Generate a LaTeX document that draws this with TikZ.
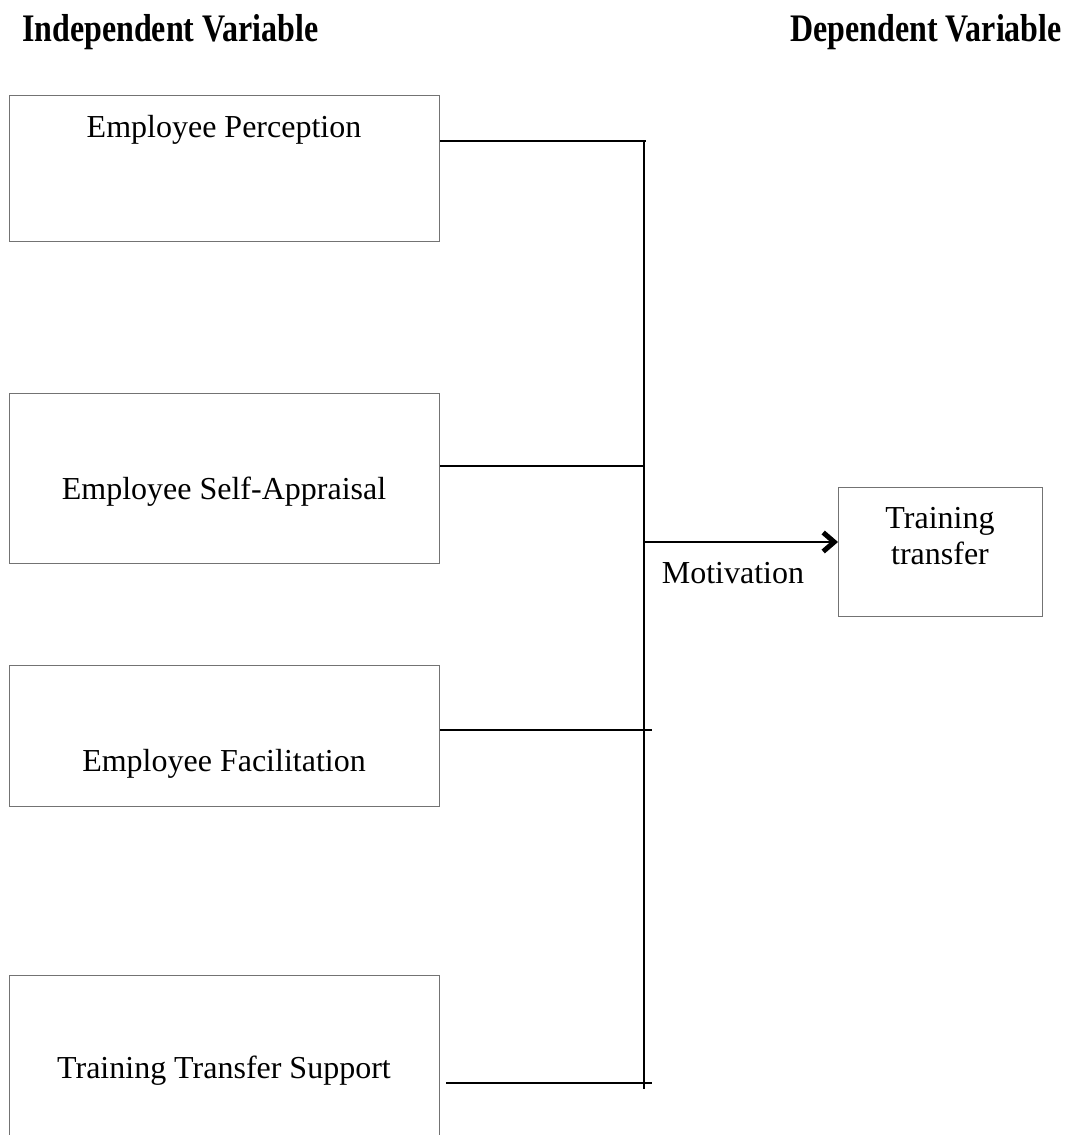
\documentclass[tikz,border=0pt]{standalone}
\usepackage{fontspec}
\usepackage{graphicx}
\setmainfont{Liberation Serif}
\usetikzlibrary{arrows.meta}
\tikzset{
  varbox/.style={draw=black!55, line width=1.4pt, rectangle, inner sep=0pt, anchor=north west},
  boxtext/.style={anchor=base, inner sep=0pt, font=\fontsize{32}{36}\selectfont},
  heading/.style={anchor=base west, inner sep=0pt, font=\bfseries\fontsize{39}{44}\selectfont},
  link/.style={draw=black, line width=2pt},
}
\begin{document}
\begin{tikzpicture}[x=1pt, y=-1pt]
\useasboundingbox (0,0) rectangle (1070,1135);

% headings
\node[heading] (indep) at (22,41) {\scalebox{0.82}[1]{Independent Variable}};
\node[heading] (dep) at (790,41) {\scalebox{0.82}[1]{Dependent Variable}};

% independent variable boxes
\node[varbox, minimum width=430pt, minimum height=146pt] (b1) at (9,95) {};
\node[varbox, minimum width=430pt, minimum height=170pt] (b2) at (9,393) {};
\node[varbox, minimum width=430pt, minimum height=141pt] (b3) at (9,665) {};
\node[varbox, minimum width=430pt, minimum height=180pt] (b4) at (9,975) {};

\node[boxtext] (t1) at (224,137) {Employee Perception};
\node[boxtext] (t2) at (224,499) {Employee Self-Appraisal};
\node[boxtext] (t3) at (224,771) {Employee Facilitation};
\node[boxtext] (t4) at (224,1078) {Training Transfer Support};

% dependent variable box
\node[varbox, minimum width=204pt, minimum height=129pt] (dv) at (838,487) {};
\node[boxtext] (dvt1) at (940,528) {Training};
\node[boxtext] (dvt2) at (940,564) {transfer};

% connector junctions
\coordinate (top) at (644,141);
\coordinate (bot) at (644,1089);
\coordinate (j1) at (646,141);
\coordinate (j2) at (644,466);
\coordinate (j3) at (652,730);
\coordinate (j4) at (652,1083);
\coordinate (s4) at (446,1083);
\coordinate (jm) at (644,542);

\draw[link] (top) -- (bot);
\draw[link] (b1.north east |- j1) -- (j1);
\draw[link] (b2.north east |- j2) -- (j2);
\draw[link] (b3.north east |- j3) -- (j3);
\draw[link] (s4) -- (j4);
\draw[link, -{Straight Barb[length=11pt, width=19pt, line width=5pt]}] (jm) -- (dv.west |- jm);

\node[boxtext] (mot) at (733,583) {Motivation};
\end{tikzpicture}
\end{document}
